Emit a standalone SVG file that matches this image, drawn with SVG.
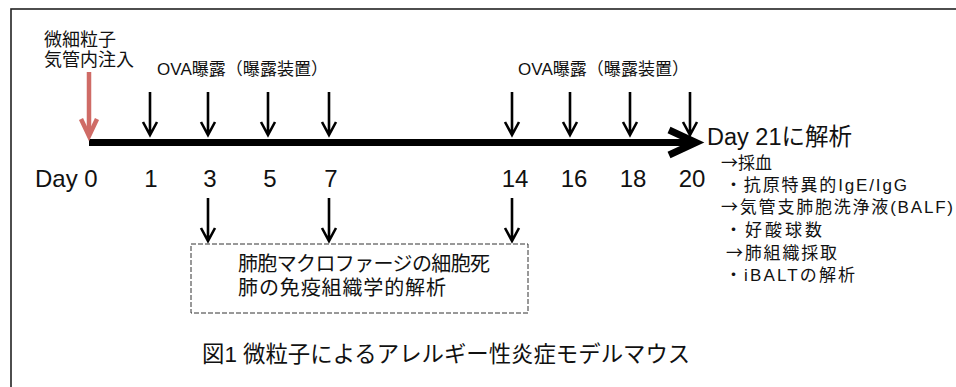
<svg xmlns="http://www.w3.org/2000/svg" width="956" height="387" viewBox="0 0 956 387">
<defs>
<style>
text{font-family:"Liberation Sans","Noto Sans CJK JP",sans-serif;fill:#111}
.ar{stroke:#000;stroke-width:2.6;fill:none;stroke-linecap:butt}
.day{font-size:24px;text-anchor:middle}
.rt{font-size:17px}
.arw{font-family:"Noto Sans CJK JP",sans-serif}
</style>
</defs>
<rect x="11" y="9" width="960" height="400" fill="#fff" stroke="#222" stroke-width="1.6"/>
<g id="connectors">
  <g id="main-line">
    <line x1="89" y1="142.5" x2="690" y2="142.5" stroke="#000" stroke-width="7"/>
    <polyline points="669,130 696,142.5 669,155" fill="none" stroke="#000" stroke-width="7" stroke-linejoin="miter"/>
  </g>
  <g id="red-arrow" stroke="#cf6b66" stroke-width="4.5" fill="none">
    <line x1="89" y1="72" x2="89" y2="135"/>
    <polyline points="81,119 89,136 97,119"/>
  </g>
  <g id="top-arrows" class="ar">
    <path d="M150 92V134M143 122L150 135L157 122"/>
    <path d="M208 92V134M201 122L208 135L215 122"/>
    <path d="M268 92V134M261 122L268 135L275 122"/>
    <path d="M329 92V134M322 122L329 135L336 122"/>
    <path d="M512 92V134M505 122L512 135L519 122"/>
    <path d="M570 92V134M563 122L570 135L577 122"/>
    <path d="M630 92V134M623 122L630 135L637 122"/>
    <path d="M690 92V134M683 122L690 135L697 122"/>
  </g>
  <g id="bottom-arrows" class="ar">
    <path d="M208 198V240M201 228L208 241L215 228"/>
    <path d="M329 198V240M322 228L329 241L336 228"/>
    <path d="M512 198V240M505 228L512 241L519 228"/>
  </g>
</g>
<g id="injection-label">
  <text x="44" y="46" font-size="18">微細粒子</text>
  <text x="44" y="66" font-size="18">気管内注入</text>
</g>
<g id="ova-1"><text x="157" y="75" font-size="17" textLength="171">OVA曝露（曝露装置）</text></g>
<g id="ova-2"><text x="518" y="75" font-size="17" textLength="171">OVA曝露（曝露装置）</text></g>
<g id="days">
  <text x="35" y="187" font-size="24">Day</text>
  <text class="day" x="91" y="187">0</text>
  <text class="day" x="151" y="187">1</text>
  <text class="day" x="210" y="187">3</text>
  <text class="day" x="270" y="187">5</text>
  <text class="day" x="331" y="187">7</text>
  <text class="day" x="515" y="187">14</text>
  <text class="day" x="574" y="187">16</text>
  <text class="day" x="633" y="187">18</text>
  <text class="day" x="692" y="187">20</text>
</g>
<g id="analysis">
  <text x="707" y="145" font-size="23.5">Day 21に解析</text>
  <text class="rt" x="721" y="169"><tspan class="arw">→</tspan>採血</text>
  <text class="rt" x="725" y="191" textLength="182">・抗原特異的IgE/IgG</text>
  <text class="rt" x="721" y="213" textLength="232"><tspan class="arw">→</tspan>気管支肺胞洗浄液(BALF)</text>
  <text class="rt" x="725" y="236" textLength="97">・好酸球数</text>
  <text class="rt" x="726" y="259" textLength="111"><tspan class="arw">→</tspan>肺組織採取</text>
  <text class="rt" x="725" y="281" textLength="130">・iBALTの解析</text>
</g>
<g id="result-box">
  <rect x="191" y="244" width="337" height="69" fill="none" stroke="#333" stroke-width="1" stroke-dasharray="5 2"/>
  <text x="238" y="271" font-size="20" textLength="252">肺胞マクロファージの細胞死</text>
  <text x="238" y="295" font-size="20" textLength="208">肺の免疫組織学的解析</text>
</g>
<g id="caption">
  <text x="202" y="362" font-size="22.4">図1 微粒子によるアレルギー性炎症モデルマウス</text>
</g>
</svg>
